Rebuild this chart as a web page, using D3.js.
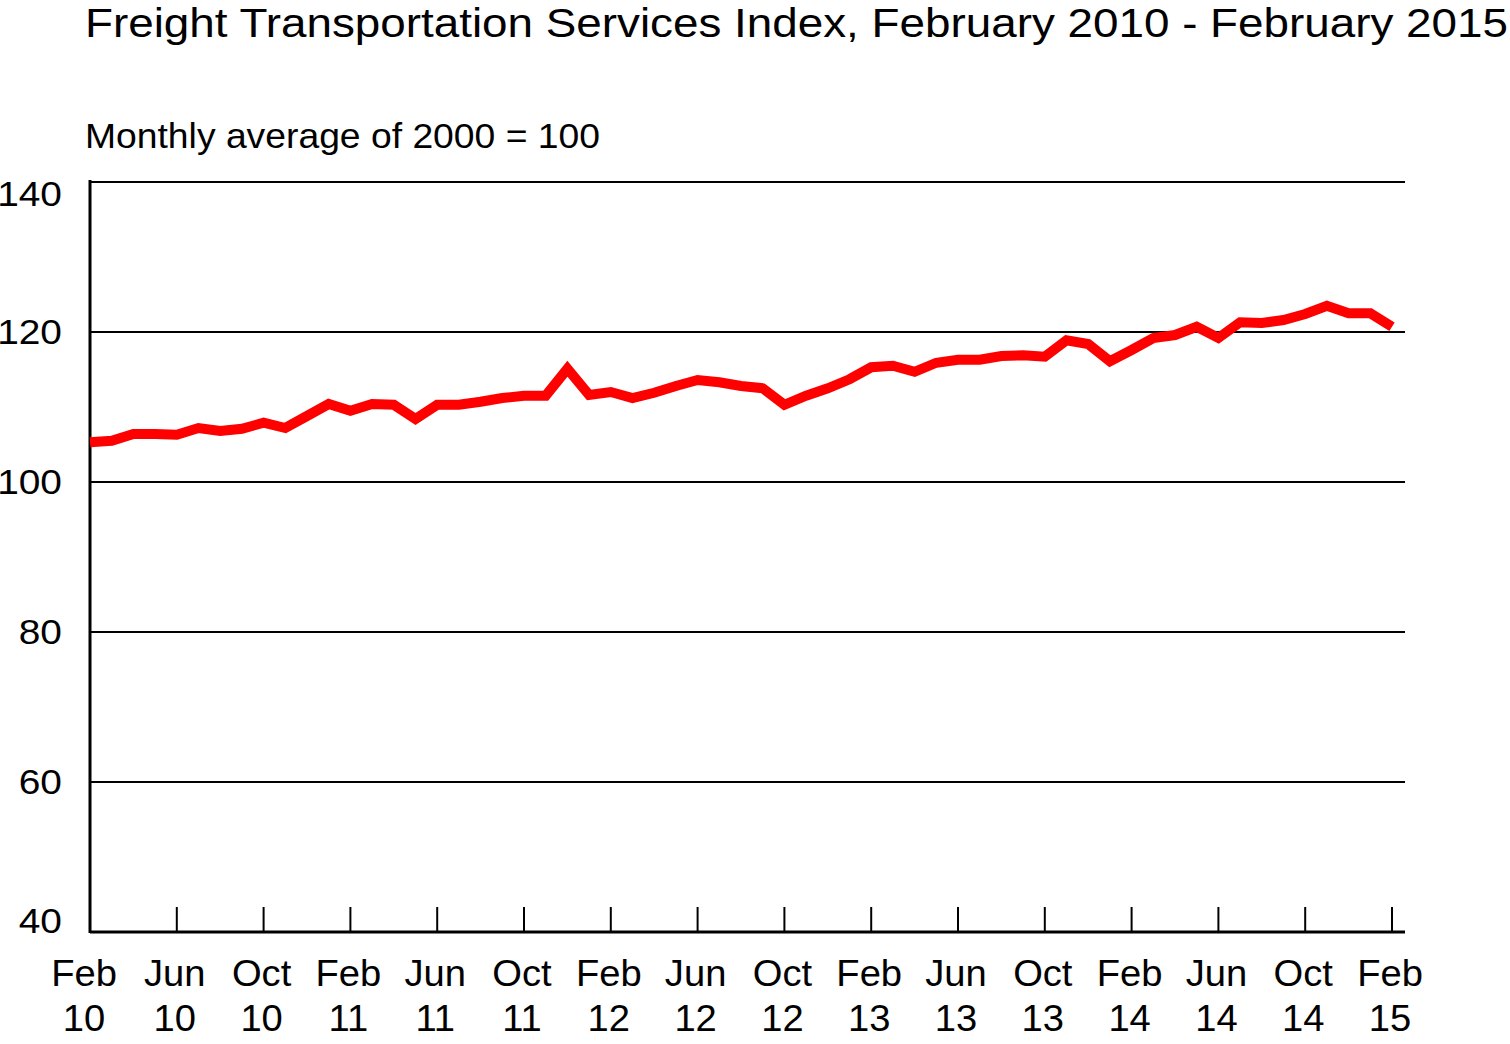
<!DOCTYPE html><html><head><meta charset="utf-8"><script src="https://cdn.jsdelivr.net/npm/d3@7"></script>
<style>body{margin:0;background:#fff}text{font-family:"Liberation Sans",Arial,sans-serif}</style></head><body><svg width="1510" height="1044"></svg>
<script>
const values=[105.3,105.5,106.4,106.4,106.3,107.2,106.8,107.1,107.9,107.2,108.8,110.4,109.5,110.4,110.3,108.4,110.3,110.3,110.7,111.2,111.5,111.5,115.1,111.6,112.0,111.2,111.9,112.8,113.6,113.3,112.8,112.5,110.3,111.5,112.5,113.7,115.3,115.5,114.7,115.9,116.3,116.3,116.8,116.9,116.7,118.9,118.4,116.1,117.6,119.2,119.6,120.7,119.2,121.3,121.2,121.6,122.4,123.5,122.5,122.5,120.7];
const tickMonths=["Feb","Jun","Oct","Feb","Jun","Oct","Feb","Jun","Oct","Feb","Jun","Oct","Feb","Jun","Oct","Feb"];
const tickYears=["10","10","10","11","11","11","12","12","12","13","13","13","14","14","14","15"];
const yTicks=[40,60,80,100,120,140];
const svg=d3.select("svg");
const x=d3.scaleLinear().domain([0,60]).range([90,1392]);
const y=d3.scaleLinear().domain([40,140]).range([932,182]);
svg.append("text").attr("x",85).attr("y",37).attr("font-size",41).attr("textLength",1423).attr("lengthAdjust","spacingAndGlyphs").text("Freight Transportation Services Index, February 2010 - February 2015");
svg.append("text").attr("x",85).attr("y",148).attr("font-size",35).attr("textLength",515).attr("lengthAdjust","spacingAndGlyphs").text("Monthly average of 2000 = 100");
yTicks.forEach(t=>{
  if(t>40) svg.append("line").attr("x1",90).attr("x2",1405).attr("y1",y(t)).attr("y2",y(t)).attr("stroke","#000").attr("stroke-width",2);
  svg.append("text").attr("x",62).attr("y",t===40?y(t)+1:t===140?y(t)+24:y(t)+12).attr("text-anchor","end").attr("font-size",36).attr("transform-origin","62px 0").attr("transform","scale(1.08,1)").text(t);
});
svg.append("line").attr("x1",90).attr("x2",1405).attr("y1",932).attr("y2",932).attr("stroke","#000").attr("stroke-width",3);
svg.append("line").attr("x1",90).attr("x2",90).attr("y1",180).attr("y2",933).attr("stroke","#000").attr("stroke-width",3);
tickMonths.forEach((m,i)=>{
  const xx=x(i*4);
  svg.append("line").attr("x1",xx).attr("x2",xx).attr("y1",907).attr("y2",932).attr("stroke","#000").attr("stroke-width",2);
  const cx=i===0?xx-6:xx-2;
  const t=svg.append("text").attr("text-anchor","middle").attr("font-size",36).attr("transform",`translate(${cx},0) scale(1.06,1)`);
  t.append("tspan").attr("x",0).attr("y",986).text(m);
  t.append("tspan").attr("x",0).attr("y",1031).text(tickYears[i]);
});
svg.append("path").datum(values).attr("fill","none").attr("stroke","#ff0000").attr("stroke-width",10)
  .attr("d",d3.line().x((d,i)=>x(i)).y(d=>y(d)));
</script></body></html>
